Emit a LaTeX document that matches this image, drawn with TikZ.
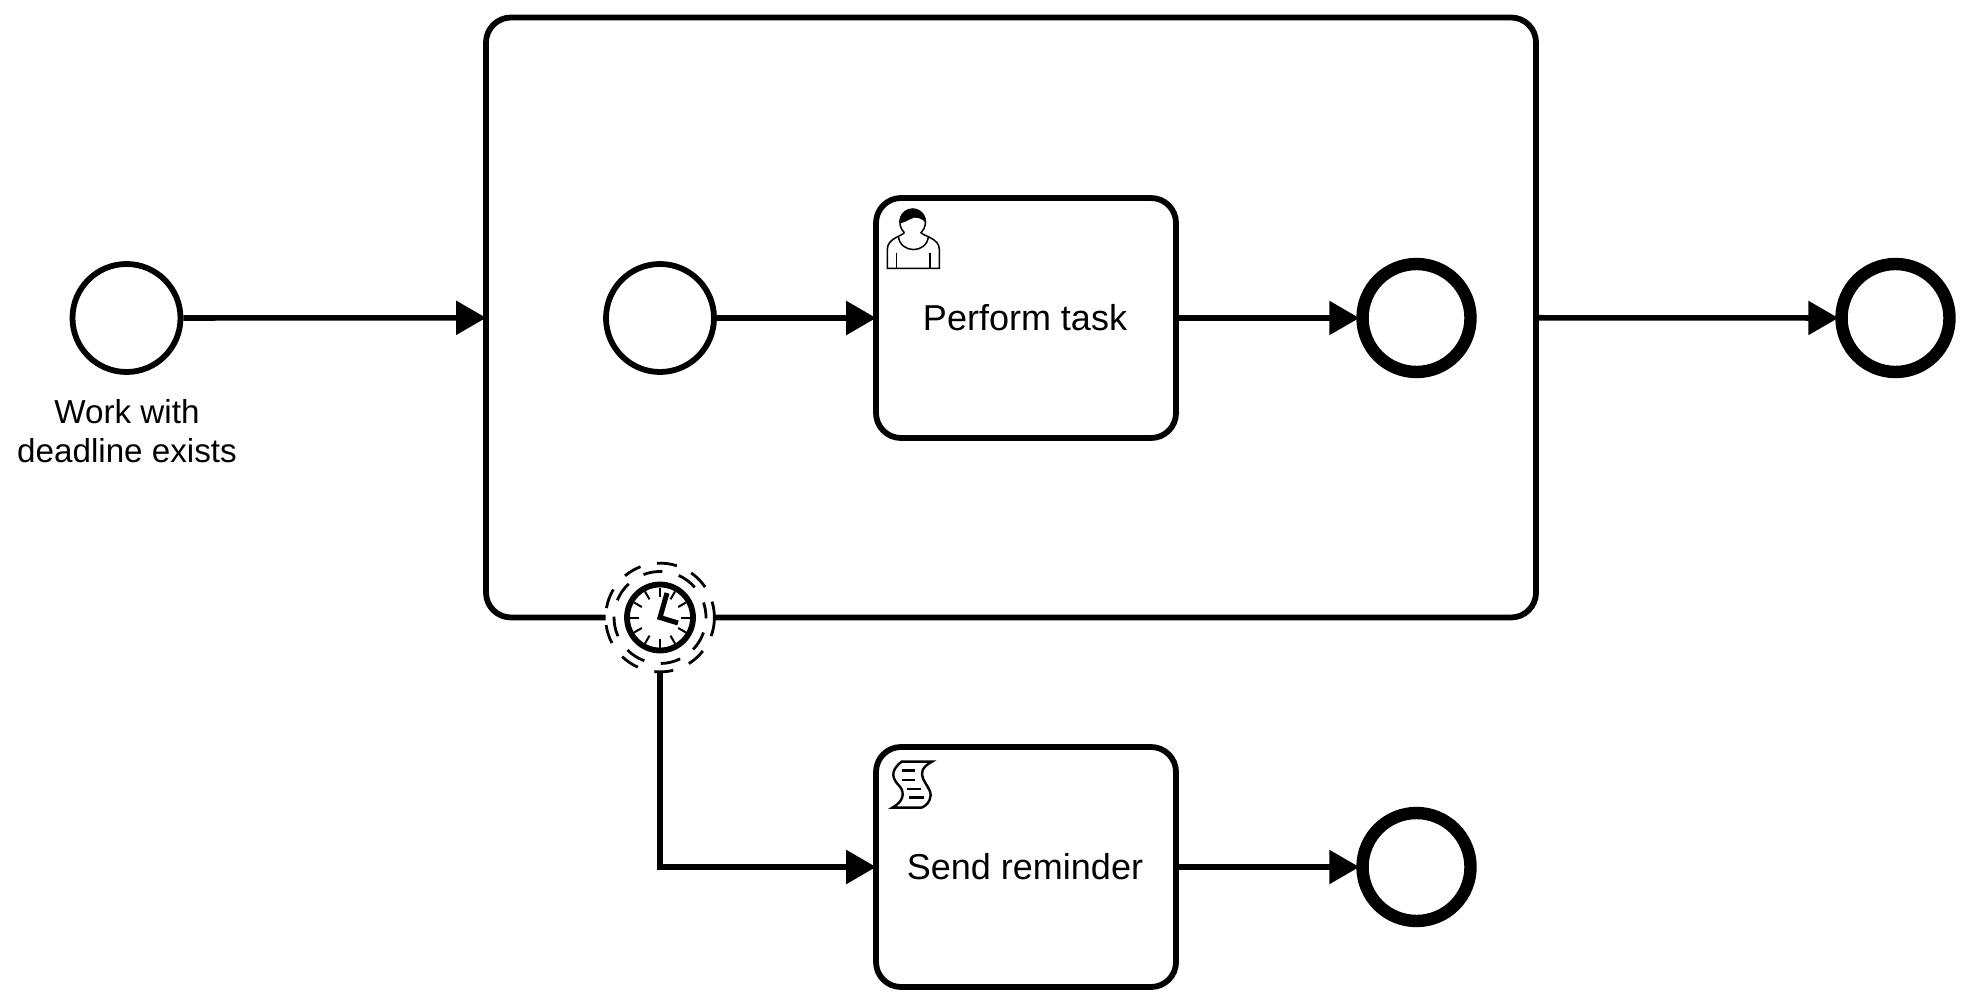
\documentclass[tikz,border=0pt]{standalone}
\usepackage{fontspec}
\setmainfont{Liberation Sans}
\usetikzlibrary{arrows.meta}

\tikzset{
  flow/.style={line width=2.8pt,shorten >=-1.5pt,-{Triangle[length=15pt,width=16.5pt]}},
  startevent/.style={circle,draw,line width=2.9pt,inner sep=0pt,minimum size=54pt},
  endevent/.style={circle,draw,line width=6.2pt,inner sep=0pt,minimum size=54pt},
  activity/.style={rectangle,draw,line width=2.9pt,rounded corners=12.5pt,inner sep=0pt,
      minimum width=150pt,minimum height=120pt,font=\fontsize{18}{22}\selectfont},
  ring/.style={line width=1.4pt},
  tick/.style={line width=1pt},
  hand/.style={line width=2.5pt},
  icon/.style={line width=0.75pt}
}

\begin{document}
\begin{tikzpicture}[x=0.5pt,y=-0.5pt]
  \useasboundingbox (0,0) rectangle (1968,1005);

  \node [name=start,startevent] at (126.5,318) {};
  \node [name=startlabel,align=center,font=\fontsize{16.6}{19.5}\selectfont,inner sep=0pt]
      at (127,431) {Work with\\deadline exists};

  \node [name=sub,activity,minimum width=525pt,minimum height=300pt] at (1011,317.5) {};
  \node [name=substart,startevent] at (660,318) {};
  \node [name=work,activity] at (1026,318) {\raisebox{1pt}{\hspace{-1pt}Perform task}};
  \node [name=subend,endevent] at (1416.5,318) {};
  \node [name=done,endevent] at (1895.5,318) {};

  \node [name=timerbg,circle,fill=white,inner sep=0pt,outer sep=0pt,minimum size=54.5pt] at (660,617.5) {};
  \node [name=timer,circle,draw,fill=white,line width=2.9pt,inner sep=0pt,minimum size=33pt] at (660,617.5) {};

  \node [name=remind,activity] at (1026,867) {\raisebox{1pt}{\hspace{-1pt}Send reminder}};
  \node [name=late,endevent] at (1416.5,867) {};

  \draw [flow] (start) -- (sub);
  \draw [flow] (substart) -- (work);
  \draw [flow] (work) -- (subend);
  \draw [flow] (sub) -- (done);
  \draw [flow] (timerbg.south) |- (remind.west);
  \draw [flow] (remind) -- (late);

  \foreach \s/\e in {93/72,55/34,17/-20,-38/-58,-76/-96,-114/-134,-152/-172,170/149,130/111}
    \draw [ring] ([shift={(\s:27.2pt)}]timer.center) arc [start angle=\s,end angle=\e,radius=27.2pt];
  \foreach \s/\e in {111/87,66/41,19/-1,-19/-44,-64/-89,-110/-135,-156/-181,158/133}
    \draw [ring] ([shift={(\s:23pt)}]timer.center) arc [start angle=\s,end angle=\e,radius=23pt];

  \foreach \a in {0,30,...,330}
    \draw [tick] (timer.center) ++(\a:10.5pt) -- ++(\a:4.5pt);

  \draw [hand] (667,593) -- (660,617.5) -- (678,623);

  \begin{scope}[shift={(860,180)},scale=1/3]
    \draw [icon,fill=white] (133,158) .. controls (105,130) and (125,87) .. (158,87)
        .. controls (191,87) and (211,130) .. (183,158)
        .. controls (190,168) and (238,175) .. (238,208) -- (238,265) -- (82,265) -- (82,208)
        .. controls (82,175) and (126,168) .. cycle;
    \fill (118,130) .. controls (118,100) and (135,87) .. (158,87)
        .. controls (181,87) and (198,100) .. (198,130)
        .. controls (185,112) and (165,108) .. (150,118) .. controls (140,124) and (130,128) .. cycle;
    \draw [icon] (115,168) .. controls (120,222) and (200,222) .. (205,170);
    \draw [icon] (110,218) -- (110,265);
    \draw [icon] (210,218) -- (210,265);
  \end{scope}

  \begin{scope}[shift={(860,730)},scale=1/3]
    \draw [line width=1.2pt,line join=miter] (125,95) -- (216,95)
        .. controls (150,130) and (213,165) .. (212,195)
        .. controls (211,215) and (198,228) .. (185,233) -- (97,233)
        .. controls (130,215) and (135,190) .. (120,170)
        .. controls (100,150) and (85,125) .. cycle;
    \foreach \xa/\xb/\ya in {125/165/122,125/165/150,140/183/177,148/192/203}
      \draw [line width=1.3pt] (\xa,\ya) -- (\xb,\ya);
  \end{scope}
\end{tikzpicture}
\end{document}
